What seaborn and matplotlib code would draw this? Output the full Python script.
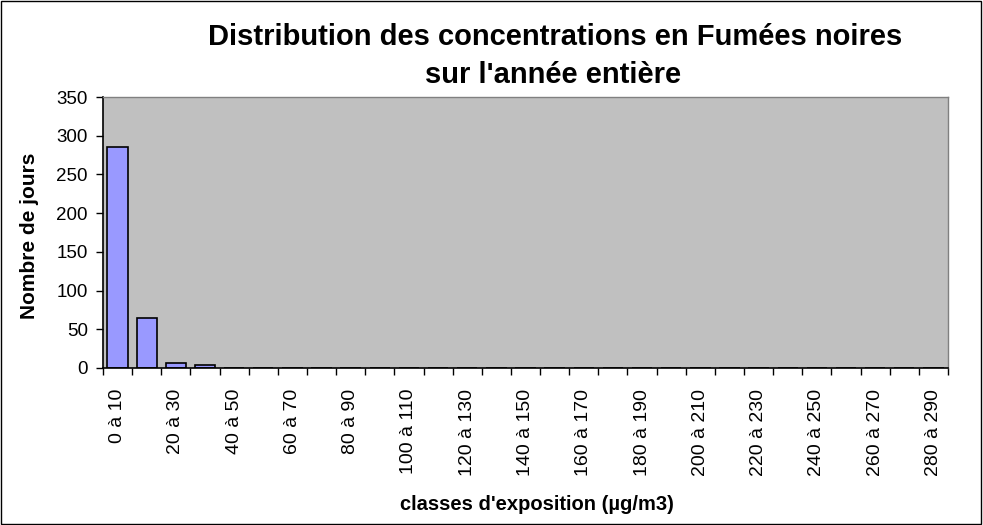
import matplotlib
matplotlib.use("Agg")
import matplotlib.pyplot as plt
import seaborn as sns
import pandas as pd
import numpy as np
from matplotlib.ticker import FixedLocator

sns.set_theme(style="white")
plt.rcParams['font.family'] = ['Liberation Sans', 'DejaVu Sans']
plt.rcParams['text.color'] = 'black'
plt.rcParams['xtick.color'] = 'black'
plt.rcParams['ytick.color'] = 'black'
plt.rcParams['axes.labelcolor'] = 'black'

classes = [f"{a} à {a+10}" for a in range(0, 290, 10)]
jours = [285, 64, 7, 4] + [0] * 25

df = pd.DataFrame({"classe": classes, "jours": jours})

W, H = 983, 525
fig = plt.figure(figsize=(W / 100, H / 100), dpi=100)
ax = fig.add_axes([103 / W, 1 - 368 / H, (948 - 103) / W, (368 - 97) / H])
sns.barplot(data=df, x="classe", y="jours", ax=ax, color="#9999FF",
            edgecolor="black", linewidth=1.2, width=0.7, saturation=1)
ax.set_facecolor("#C0C0C0")
ax.set_xlim(-0.5, len(classes) - 0.5)
ax.set_ylim(0, 350)
ax.set_yticks(range(0, 351, 50))

labels = [c if i % 2 == 0 else "" for i, c in enumerate(classes)]
ax.set_xticks(range(len(classes)))
ax.set_xticklabels(labels, rotation=90, fontsize=14, color="black")
ax.xaxis.set_minor_locator(FixedLocator(np.arange(-0.5, len(classes), 1)))
ax.tick_params(axis="x", which="major", length=0, pad=15)
ax.tick_params(axis="x", which="minor", length=5, width=1, color="black", direction="out", bottom=True)
ax.tick_params(axis="y", length=5, width=1, color="black", direction="out", left=True,
               labelsize=13.5, pad=6, labelcolor="black")

for s in ["top", "right"]:
    ax.spines[s].set_color("#808080")
    ax.spines[s].set_linewidth(1)
for s in ["left", "bottom"]:
    ax.spines[s].set_color("black")
    ax.spines[s].set_linewidth(1.2)

ax.set_xlabel("")
ax.set_ylabel("")
fig.text(537 / W, 1 - 505 / H, "classes d'exposition (µg/m3)", ha="center", va="center",
         fontsize=14.5, fontweight="bold", color="black")
fig.text(30 / W, 1 - 236 / H, "Nombre de jours", ha="center", va="center", rotation=90,
         fontsize=15, fontweight="bold", color="black")
fig.text(555 / W, 1 - 37 / H, "Distribution des concentrations en Fumées noires",
         ha="center", va="center", fontsize=21, fontweight="bold", color="black")
fig.text(553 / W, 1 - 75 / H, "sur l'année entière",
         ha="center", va="center", fontsize=21, fontweight="bold", color="black")

fig.patches.append(plt.Rectangle((0.001, 0.002), 0.997, 0.996, transform=fig.transFigure,
                                 fill=False, edgecolor="black", linewidth=1))
fig.savefig("out.png", dpi=100)
